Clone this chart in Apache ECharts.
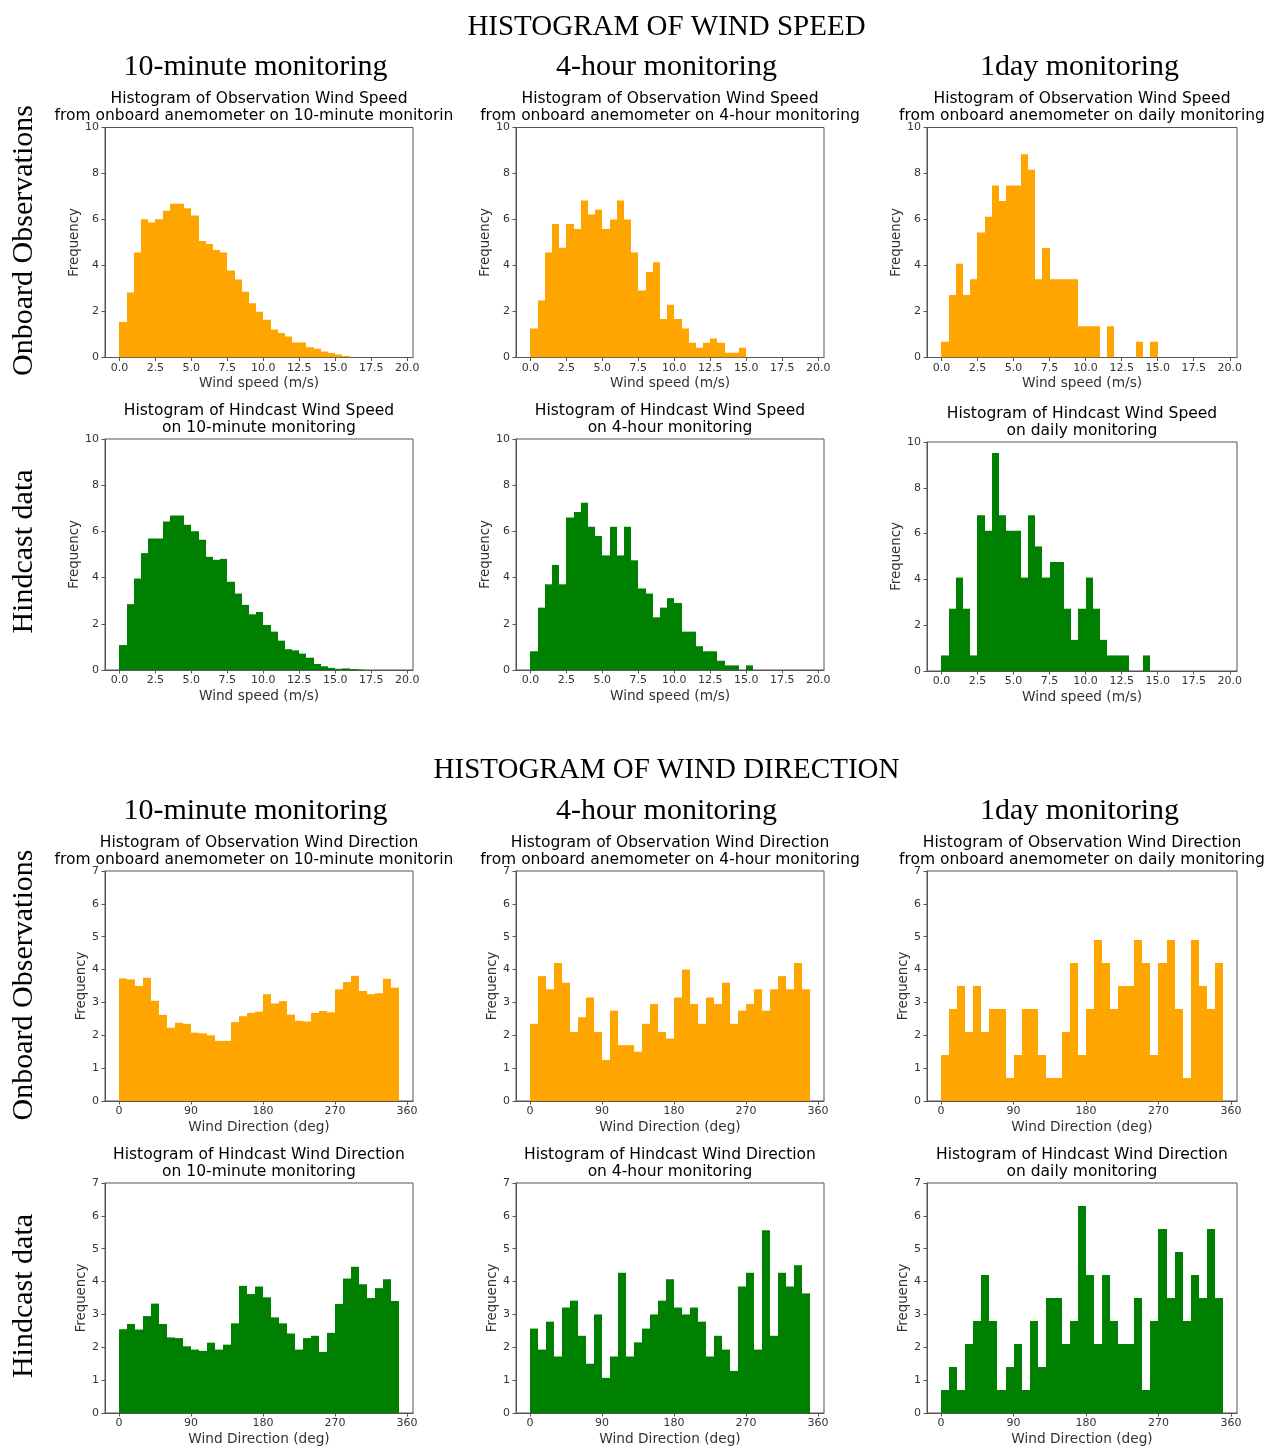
<!DOCTYPE html>
<html>
<head>
<meta charset="utf-8">
<script src="https://cdn.jsdelivr.net/npm/echarts@6/dist/echarts.min.js"></script>
<style>
  html, body { margin: 0; padding: 0; background: #fff; }
  #chart { width: 1267px; height: 1447px; }
</style>
</head>
<body>
<div id="chart"></div>
<script>
// ---- Histogram values (percent of records per bin) ----
// Wind speed: 0.5 m/s bins starting at 0
const SPEED_BIN = 0.5;
const obsSpeed10min = [1.54, 2.83, 4.57, 6.01, 5.87, 6.01, 6.38, 6.68, 6.68, 6.49, 6.17, 5.06, 4.94, 4.67, 4.57, 3.78,
  3.39, 2.86, 2.36, 1.99, 1.64, 1.22, 1.07, 0.91, 0.65, 0.65, 0.45, 0.38, 0.26, 0.20, 0.13, 0.06];
const obsSpeed4h = [1.26, 2.48, 4.57, 5.80, 4.77, 5.80, 5.59, 6.83, 6.22, 6.42, 5.59, 6.00, 6.83, 6.00, 4.57, 2.91,
  3.72, 4.14, 1.67, 2.29, 1.67, 1.26, 0.64, 0.42, 0.64, 0.83, 0.64, 0.21, 0.21, 0.42];
const obsSpeedDaily = [0.68, 2.72, 4.08, 2.72, 3.40, 5.44, 6.12, 7.48, 6.80, 7.48, 7.48, 8.84, 8.16, 3.40, 4.76, 3.40,
  3.40, 3.40, 3.40, 1.36, 1.36, 1.36, 0, 1.36, 0, 0, 0, 0.68, 0, 0.68];
const hindSpeed10min = [1.08, 2.85, 3.96, 5.06, 5.69, 5.69, 6.43, 6.69, 6.69, 6.29, 6.01, 5.64, 4.90, 4.77, 4.81, 3.82,
  3.31, 2.82, 2.41, 2.51, 1.95, 1.66, 1.27, 0.90, 0.85, 0.71, 0.53, 0.26, 0.16, 0.09, 0.05, 0.07, 0.04, 0.02];
const hindSpeed4h = [0.81, 2.70, 3.71, 4.55, 3.71, 6.60, 6.84, 7.24, 6.20, 5.80, 4.96, 6.20, 4.96, 6.20, 4.75, 3.53,
  3.31, 2.28, 2.70, 3.11, 2.90, 1.66, 1.66, 1.03, 0.81, 0.81, 0.40, 0.20, 0.20, 0, 0.20];
const hindSpeedDaily = [0.68, 2.72, 4.08, 2.72, 0.68, 6.80, 6.12, 9.52, 6.80, 6.12, 6.12, 4.08, 6.80, 5.44, 4.08, 4.76,
  4.76, 2.72, 1.36, 2.72, 4.08, 2.72, 1.36, 0.68, 0.68, 0.68, 0, 0, 0.68];

// Wind direction: 10 degree bins starting at 0
const DIR_BIN = 10;
const obsDir10min = [3.73, 3.70, 3.50, 3.75, 3.05, 2.62, 2.23, 2.38, 2.35, 2.08, 2.06, 2.00, 1.83, 1.83, 2.40, 2.58,
  2.68, 2.72, 3.25, 2.97, 3.04, 2.63, 2.44, 2.42, 2.68, 2.74, 2.70, 3.40, 3.62, 3.81, 3.35, 3.25, 3.28, 3.72, 3.45];
const obsDir4h = [2.35, 3.80, 3.40, 4.20, 3.60, 2.10, 2.55, 3.15, 2.10, 1.25, 2.75, 1.70, 1.70, 1.50, 2.35, 2.95,
  2.10, 1.90, 3.15, 4.00, 2.95, 2.35, 3.15, 2.95, 3.60, 2.35, 2.75, 2.95, 3.40, 2.75, 3.40, 3.80, 3.40, 4.20, 3.40];
const obsDirDaily = [1.4, 2.8, 3.5, 2.1, 3.5, 2.1, 2.8, 2.8, 0.7, 1.4, 2.8, 2.8, 1.4, 0.7, 0.7, 2.1,
  4.2, 1.4, 2.8, 4.9, 4.2, 2.8, 3.5, 3.5, 4.9, 4.2, 1.4, 4.2, 4.9, 2.8, 0.7, 4.9, 3.5, 2.8, 4.2];
const hindDir10min = [2.55, 2.71, 2.54, 2.95, 3.33, 2.71, 2.30, 2.28, 2.03, 1.93, 1.89, 2.14, 1.93, 2.08, 2.73, 3.87,
  3.62, 3.85, 3.52, 2.91, 2.73, 2.42, 1.93, 2.28, 2.35, 1.86, 2.44, 3.32, 4.09, 4.45, 3.92, 3.50, 3.80, 4.07, 3.41];
const hindDir4h = [2.57, 1.93, 2.78, 1.72, 3.21, 3.42, 2.35, 1.50, 3.00, 1.07, 1.72, 4.27, 1.72, 2.15, 2.57, 3.00,
  3.42, 4.07, 3.21, 3.00, 3.21, 2.78, 1.72, 2.35, 1.93, 1.28, 3.85, 4.27, 1.93, 5.56, 2.35, 4.27, 3.85, 4.50, 3.64];
const hindDirDaily = [0.7, 1.4, 0.7, 2.1, 2.8, 4.2, 2.8, 0.7, 1.4, 2.1, 0.7, 2.8, 1.4, 3.5, 3.5, 2.1,
  2.8, 6.3, 4.2, 2.1, 4.2, 2.8, 2.1, 2.1, 3.5, 0.7, 2.8, 5.6, 3.5, 4.9, 2.8, 4.2, 3.5, 5.6, 3.5];

// ---- Tick labels ----
const speedTicks = [0, 2.5, 5, 7.5, 10, 12.5, 15, 17.5, 20];
const dirTicks = [0, 90, 180, 270, 360];

// ---- Text ----
const sectionTitles = ['HISTOGRAM OF WIND SPEED', 'HISTOGRAM OF WIND DIRECTION'];
const columnTitles = ['10-minute monitoring', '4-hour monitoring', '1day monitoring'];
const rowTitles = ['Onboard Observations', 'Hindcast data'];

// ---- Styling ----
const ORANGE = '#FFA500';
const GREEN = '#008000';
const SPINE = '#555';
const TXT = '#333';
const SANS = '"DejaVu Sans", sans-serif';
const SERIF = '"Liberation Serif", "Times New Roman", serif';

const COLS = [
  { left: 105, width: 308, cx: 259 },
  { left: 516, width: 308, cx: 670 },
  { left: 927, width: 310, cx: 1082 }
];

const panels = [
  { col: 0, top: 127.5, h: 230, kind: 'speed', data: obsSpeed10min, color: ORANGE,
    t1: 'Histogram of Observation Wind Speed', t2: 'from onboard anemometer on 10-minute monitorin', t2Left: 54.5 },
  { col: 1, top: 127.5, h: 230, kind: 'speed', data: obsSpeed4h, color: ORANGE,
    t1: 'Histogram of Observation Wind Speed', t2: 'from onboard anemometer on 4-hour monitoring' },
  { col: 2, top: 127.5, h: 230, kind: 'speed', data: obsSpeedDaily, color: ORANGE,
    t1: 'Histogram of Observation Wind Speed', t2: 'from onboard anemometer on daily monitoring' },
  { col: 0, top: 439, h: 231, kind: 'speed', data: hindSpeed10min, color: GREEN,
    t1: 'Histogram of Hindcast Wind Speed', t2: 'on 10-minute monitoring' },
  { col: 1, top: 439, h: 231, kind: 'speed', data: hindSpeed4h, color: GREEN,
    t1: 'Histogram of Hindcast Wind Speed', t2: 'on 4-hour monitoring' },
  { col: 2, top: 442, h: 229, kind: 'speed', data: hindSpeedDaily, color: GREEN,
    t1: 'Histogram of Hindcast Wind Speed', t2: 'on daily monitoring' },
  { col: 0, top: 871, h: 230, kind: 'dir', data: obsDir10min, color: ORANGE,
    t1: 'Histogram of Observation Wind Direction', t2: 'from onboard anemometer on 10-minute monitorin', t2Left: 54.5 },
  { col: 1, top: 871, h: 230, kind: 'dir', data: obsDir4h, color: ORANGE,
    t1: 'Histogram of Observation Wind Direction', t2: 'from onboard anemometer on 4-hour monitoring' },
  { col: 2, top: 871, h: 230, kind: 'dir', data: obsDirDaily, color: ORANGE,
    t1: 'Histogram of Observation Wind Direction', t2: 'from onboard anemometer on daily monitoring' },
  { col: 0, top: 1183, h: 231, kind: 'dir', data: hindDir10min, color: GREEN,
    t1: 'Histogram of Hindcast Wind Direction', t2: 'on 10-minute monitoring' },
  { col: 1, top: 1183, h: 231, kind: 'dir', data: hindDir4h, color: GREEN,
    t1: 'Histogram of Hindcast Wind Direction', t2: 'on 4-hour monitoring' },
  { col: 2, top: 1183, h: 231, kind: 'dir', data: hindDirDaily, color: GREEN,
    t1: 'Histogram of Hindcast Wind Direction', t2: 'on daily monitoring' }
];

// Draws each histogram bin as a rectangle from [start, value] to [start + width, 0]
function histRenderer(binWidth, color) {
  return function (params, api) {
    const x0 = api.value(0);
    const v = api.value(1);
    if (!(v > 0)) return null;
    const pTop = api.coord([x0, v]);
    const pBot = api.coord([x0 + binWidth, 0]);
    const xl = Math.round(pTop[0]);
    const xr = Math.round(pBot[0]);
    return {
      type: 'rect',
      shape: { x: xl, y: pTop[1], width: xr - xl, height: pBot[1] - pTop[1] },
      style: { fill: color }
    };
  };
}

const grids = [], xAxes = [], yAxes = [], series = [], graphics = [];

function addText(text, x, y, font, opts) {
  graphics.push(Object.assign({
    type: 'text', x: x, y: y, silent: true,
    style: { text: text, font: font, fill: '#000', textAlign: 'center', textVerticalAlign: 'middle' }
  }, opts || {}));
}

panels.forEach(function (p, i) {
  const c = COLS[p.col];
  const isSpeed = p.kind === 'speed';
  const binW = isSpeed ? SPEED_BIN : DIR_BIN;
  const ticks = isSpeed ? speedTicks : dirTicks;

  grids.push({
    left: c.left, top: p.top, width: c.width, height: p.h,
    show: true, borderColor: SPINE, borderWidth: 1, backgroundColor: 'rgba(0,0,0,0)'
  });

  xAxes.push({
    gridIndex: i, type: 'value',
    min: isSpeed ? -1 : -17.5,
    max: isSpeed ? (p.col === 2 ? 20.5 : 20.4) : 367.5,
    splitLine: { show: false },
    axisLine: { show: true, onZero: false, lineStyle: { color: SPINE, width: 1 } },
    axisTick: { show: true, length: 3.5, customValues: ticks, lineStyle: { color: SPINE, width: 1 } },
    axisLabel: {
      customValues: ticks, margin: 5, fontSize: 11, color: TXT, fontFamily: SANS,
      formatter: function (v) { return isSpeed ? Number(v).toFixed(1) : String(v); }
    },
    name: isSpeed ? 'Wind speed (m/s)' : 'Wind Direction (deg)',
    nameLocation: 'middle', nameGap: 19,
    nameTextStyle: { fontSize: 13.7, color: TXT, fontFamily: SANS }
  });

  yAxes.push({
    gridIndex: i, type: 'value', min: 0, max: isSpeed ? 10 : 7, interval: isSpeed ? 2 : 1,
    splitLine: { show: false },
    axisLine: { show: true, onZero: false, lineStyle: { color: SPINE, width: 1 } },
    axisTick: { show: true, length: 3.5, lineStyle: { color: SPINE, width: 1 } },
    axisLabel: { margin: 6, fontSize: 11, color: TXT, fontFamily: SANS },
    name: 'Frequency', nameLocation: 'middle', nameRotate: 90,
    nameGap: isSpeed ? 24 : 17,
    nameTextStyle: { fontSize: 13.3, color: TXT, fontFamily: SANS }
  });

  series.push({
    type: 'custom', xAxisIndex: i, yAxisIndex: i, silent: true, clip: true,
    renderItem: histRenderer(binW, p.color),
    encode: { x: 0, y: 1 },
    data: p.data.map(function (v, k) { return [k * binW, v]; })
  });

  // two-line subplot title
  addText(p.t1, c.cx, p.top - 28.5, '15.5px ' + SANS, {});
  if (p.t2Left) {
    graphics.push({
      type: 'text', x: p.t2Left, y: p.top - 11.5, silent: true,
      style: { text: p.t2, font: '15.5px ' + SANS, fill: '#000', textAlign: 'left', textVerticalAlign: 'middle' }
    });
  } else {
    addText(p.t2, c.cx, p.top - 11.5, '15.5px ' + SANS, {});
  }
});

// Section headings, column headings and row headings
const BIG = '30px ' + SERIF;
addText(sectionTitles[0], 666.5, 27, '29px ' + SERIF);
addText(sectionTitles[1], 666.5, 770, '29px ' + SERIF);
const colX = [255.5, 666.5, 1079.5];
columnTitles.forEach(function (t, k) {
  addText(t, colX[k], 67, BIG);
  addText(t, colX[k], 811, BIG);
});
const rowY = [240.5, 551.5, 985, 1296];
rowY.forEach(function (y, k) {
  addText(rowTitles[k % 2], 24, y, BIG, { rotation: Math.PI / 2 });
});

const chart = echarts.init(document.getElementById('chart'), null, { renderer: 'canvas' });
chart.setOption({
  backgroundColor: '#fff',
  animation: false,
  grid: grids,
  xAxis: xAxes,
  yAxis: yAxes,
  series: series,
  graphic: { elements: graphics }
});
</script>
</body>
</html>
